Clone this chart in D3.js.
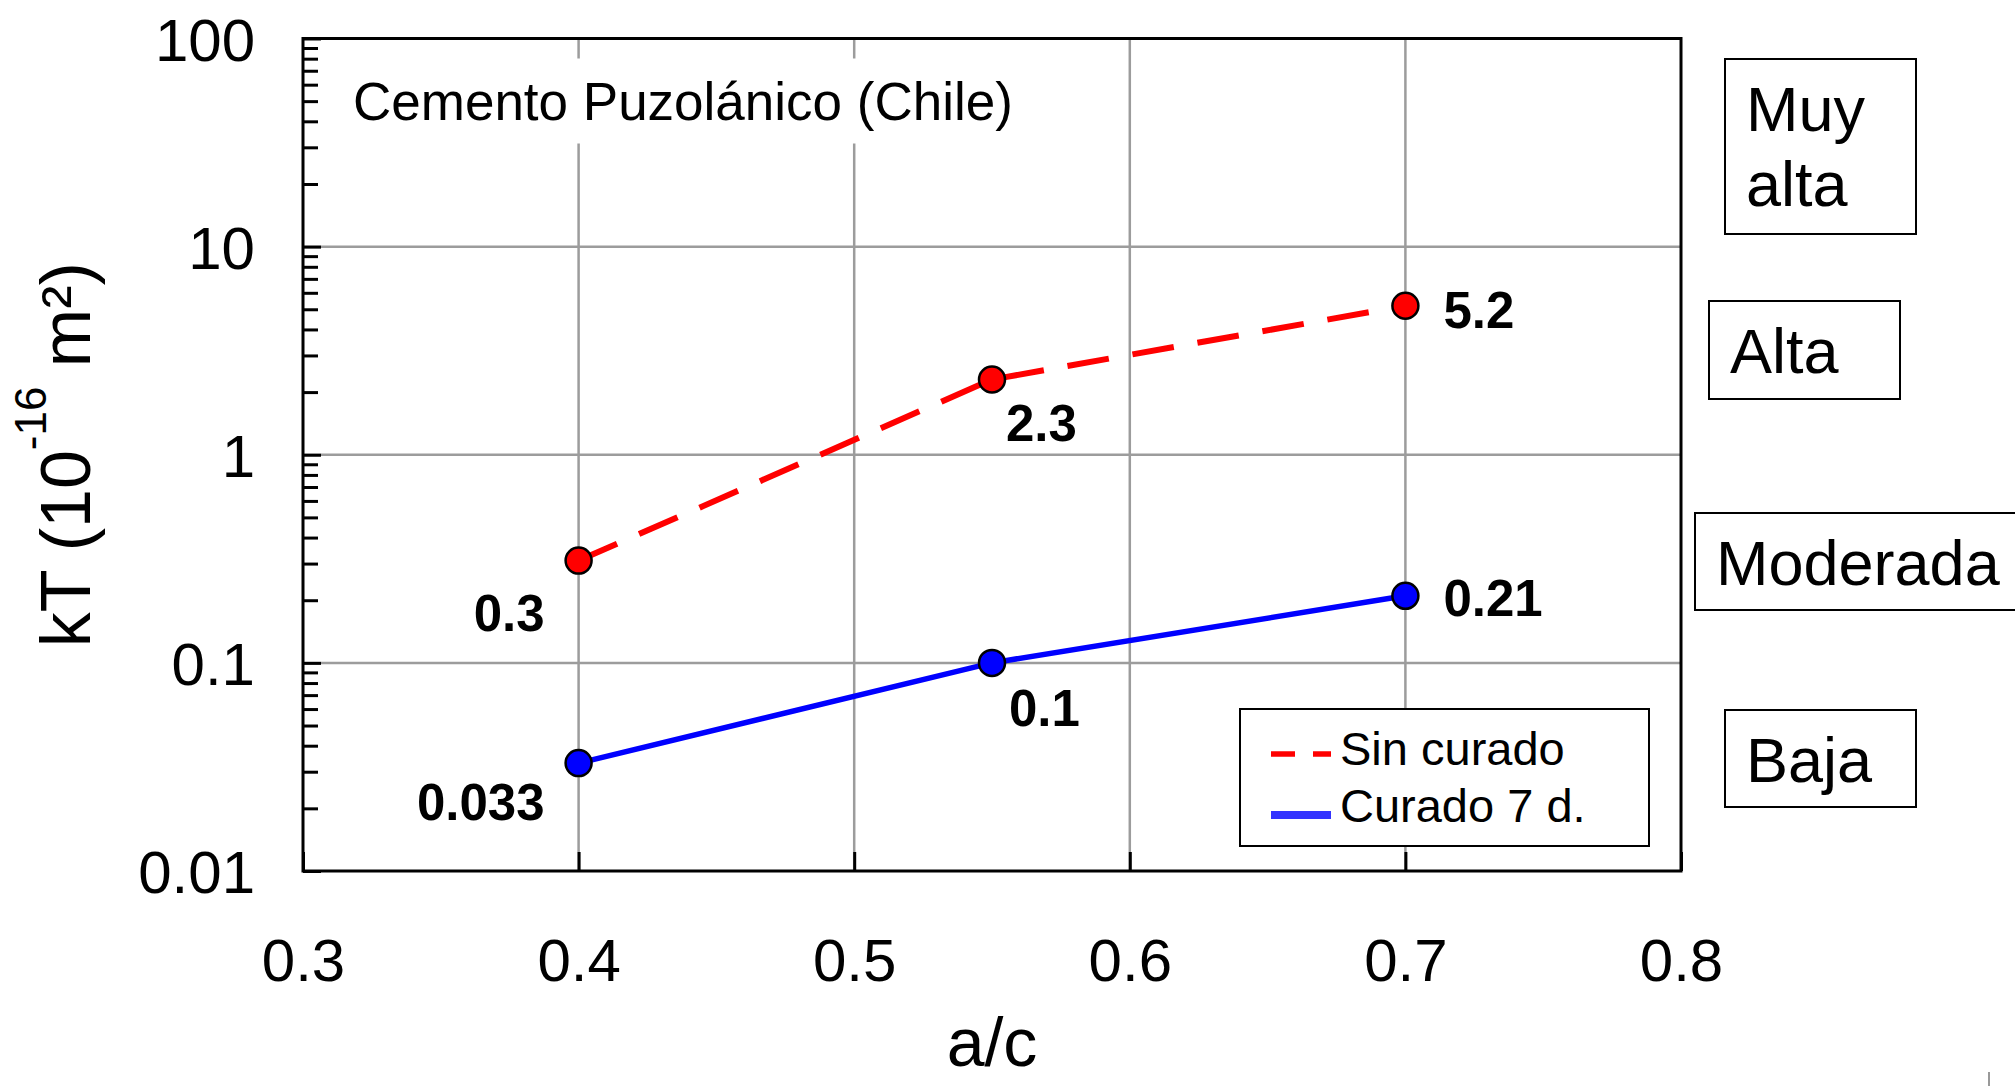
<!DOCTYPE html>
<html>
<head>
<meta charset="utf-8">
<script src="https://cdn.jsdelivr.net/npm/d3@7"></script>
<style>
  body { margin: 0; background: #fff; }
  svg { display: block; font-family: "Liberation Sans", Arial, sans-serif; }
</style>
</head>
<body>
<div id="chart"></div>
<script>
// values
const acRatio = [0.4, 0.55, 0.7];
const sinCurado = [0.31, 2.3, 5.2];
const curado7d = [0.033, 0.1, 0.21];
const sinCuradoLabels = ["0.3", "2.3", "5.2"];
const curado7dLabels = ["0.033", "0.1", "0.21"];
const xTickValues = [0.3, 0.4, 0.5, 0.6, 0.7, 0.8];
const yDecades = [0.01, 0.1, 1, 10, 100];
const classNames = [["Muy", "alta"], ["Alta"], ["Moderada"], ["Baja"]];

(function () {
  "use strict";

  const width = 2015, height = 1086;
  const margin = { top: 38.5, right: 334, bottom: 215, left: 303 };
  const innerW = width - margin.left - margin.right;
  const innerH = height - margin.top - margin.bottom;

  const svg = d3.select("#chart").append("svg")
    .attr("width", width)
    .attr("height", height);

  const x = d3.scaleLinear().domain([0.3, 0.8]).range([0, innerW]);
  const y = d3.scaleLog().domain([0.01, 100]).range([innerH, 0]);

  const g = svg.append("g")
    .attr("transform", "translate(" + margin.left + "," + margin.top + ")");

  // grid
  g.append("g").selectAll("line")
    .data(xTickValues.slice(1, -1))
    .join("line")
      .attr("x1", d => x(d)).attr("x2", d => x(d))
      .attr("y1", 0).attr("y2", innerH)
      .attr("stroke", "#9c9c9c").attr("stroke-width", 2.5);
  g.append("g").selectAll("line")
    .data(yDecades.slice(1, -1))
    .join("line")
      .attr("x1", 0).attr("x2", innerW)
      .attr("y1", d => y(d)).attr("y2", d => y(d))
      .attr("stroke", "#9c9c9c").attr("stroke-width", 2.5);

  // title, on a white patch that hides the grid behind it
  g.append("rect")
    .attr("x", 40).attr("y", 20)
    .attr("width", 690).attr("height", 85)
    .attr("fill", "#fff");
  g.append("text")
    .attr("x", 50).attr("y", 81.5)
    .attr("font-size", 53)
    .text("Cemento Puzolánico (Chile)");

  const series = [
    { values: sinCurado, labels: sinCuradoLabels, color: "#ff0000", dash: "42,24", w: 6,
      place: [[-34, 70, "end"], [14, 62, "start"], [38, 22, "start"]] },
    { values: curado7d, labels: curado7dLabels, color: "#0000ff", dash: null, w: 5.5,
      place: [[-34, 57, "end"], [17, 63, "start"], [38, 20, "start"]] }
  ];

  const line = d3.line()
    .x(d => x(d[0]))
    .y(d => y(d[1]));

  series.forEach(function (s) {
    const pts = acRatio.map((a, i) => [a, s.values[i], s.labels[i], s.place[i]]);

    g.append("path")
      .datum(pts)
      .attr("fill", "none")
      .attr("stroke", s.color)
      .attr("stroke-width", s.w)
      .attr("stroke-dasharray", s.dash)
      .attr("d", line);

    g.append("g").selectAll("circle")
      .data(pts)
      .join("circle")
        .attr("cx", d => x(d[0]))
        .attr("cy", d => y(d[1]))
        .attr("r", 13)
        .attr("fill", s.color)
        .attr("stroke", "#000")
        .attr("stroke-width", 2.5);

    g.append("g").selectAll("text")
      .data(pts)
      .join("text")
        .attr("x", d => x(d[0]) + d[3][0])
        .attr("y", d => y(d[1]) + d[3][1])
        .attr("text-anchor", d => d[3][2])
        .attr("font-size", 51)
        .attr("font-weight", "bold")
        .text(d => d[2]);
  });

  // y axis, ticks pointing inward, labels on decades only
  const yAxis = g.append("g")
    .call(d3.axisLeft(y)
      .tickSizeInner(-15)
      .tickSizeOuter(0)
      .tickPadding(48)
      .tickFormat(d => yDecades.indexOf(d) >= 0 ? d3.format("~g")(d) : ""));
  yAxis.select(".domain").remove();
  yAxis.selectAll(".tick line").attr("stroke-width", 3)
    .filter(d => yDecades.indexOf(d) >= 0).attr("x2", 18);
  yAxis.selectAll(".tick text")
    .attr("font-size", 60)
    .attr("fill", "#000")
    .attr("dy", "0.36em");

  // x axis
  const xAxis = g.append("g")
    .attr("transform", "translate(0," + innerH + ")")
    .call(d3.axisBottom(x)
      .tickValues(xTickValues)
      .tickSizeInner(-19)
      .tickSizeOuter(0)
      .tickPadding(67)
      .tickFormat(d3.format(".1f")));
  xAxis.select(".domain").remove();
  xAxis.selectAll(".tick line").attr("stroke-width", 3);
  xAxis.selectAll(".tick text").attr("font-size", 60).attr("fill", "#000");

  // frame
  g.append("rect")
    .attr("width", innerW).attr("height", innerH)
    .attr("fill", "none")
    .attr("stroke", "#000")
    .attr("stroke-width", 3);

  // axis titles
  svg.append("text")
    .attr("x", margin.left + innerW / 2)
    .attr("y", 1066)
    .attr("text-anchor", "middle")
    .attr("font-size", 68)
    .text("a/c");

  const yTitle = svg.append("text")
    .attr("transform", "translate(90," + (margin.top + innerH / 2) + ") rotate(-90)")
    .attr("text-anchor", "middle")
    .attr("font-size", 70);
  yTitle.append("tspan").text("kT (10");
  yTitle.append("tspan").attr("font-size", 44).attr("dy", -44).text("-16");
  yTitle.append("tspan").attr("dy", 44).text(" m²)");

  // legend
  const legend = svg.append("g").attr("transform", "translate(1240,709)");
  legend.append("rect")
    .attr("width", 409).attr("height", 137)
    .attr("fill", "#fff").attr("stroke", "#000").attr("stroke-width", 2);
  const legendItems = [
    { name: "Sin curado", color: "#ff0000", dash: "24,18", w: 5.5 },
    { name: "Curado 7 d.", color: "#3333ff", dash: null, w: 8 }
  ];
  legendItems.forEach(function (d, i) {
    legend.append("line")
      .attr("x1", 31).attr("x2", 91)
      .attr("y1", 45 + i * 61).attr("y2", 45 + i * 61)
      .attr("stroke", d.color)
      .attr("stroke-width", d.w)
      .attr("stroke-dasharray", d.dash);
    legend.append("text")
      .attr("x", 100).attr("y", 56 + i * 57)
      .attr("font-size", 47)
      .text(d.name);
  });

  // permeability classes at the right
  const classBoxes = [
    { x: 1725, y: 59, w: 191, h: 175 },
    { x: 1709, y: 301, w: 191, h: 98 },
    { x: 1695, y: 513, w: 330, h: 97 },
    { x: 1725, y: 710, w: 191, h: 97 }
  ];
  classNames.forEach(function (lines, i) {
    const b = classBoxes[i];
    const cg = svg.append("g").attr("transform", "translate(" + b.x + "," + b.y + ")");
    cg.append("rect")
      .attr("width", b.w).attr("height", b.h)
      .attr("fill", "none").attr("stroke", "#000").attr("stroke-width", 2);
    cg.selectAll("text")
      .data(lines)
      .join("text")
        .attr("x", 21)
        .attr("y", (d, j) => 72 + j * 75)
        .attr("font-size", 63)
        .text(d => d);
  });

  // small stray mark at the bottom right of the original
  svg.append("line")
    .attr("x1", 1989).attr("x2", 1989)
    .attr("y1", 1072).attr("y2", 1086)
    .attr("stroke", "#999").attr("stroke-width", 2);
})();
</script>
</body>
</html>
